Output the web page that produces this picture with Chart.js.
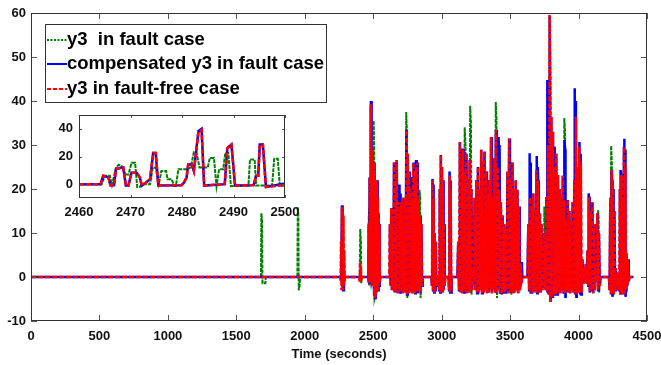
<!DOCTYPE html>
<html>
<head>
<meta charset="utf-8">
<script src="https://cdn.jsdelivr.net/npm/chart.js@4.4.0/dist/chart.umd.min.js"></script>
<style>
  body { margin: 0; background: #fff; }
  #wrap { position: relative; width: 661px; height: 365px; }
  #main { position: absolute; left: 0; top: 0; }
  #inset { position: absolute; left: 50px; top: 105px; }
</style>
</head>
<body>
<div id="wrap">
  <canvas id="main" width="661" height="365"></canvas>
  <canvas id="inset" width="255" height="118"></canvas>
</div>
<script>
// ==============================
// y3 : fault / compensated / fault-free
// ==============================

// --- Ticks ---
const mainXTicks = [0, 500, 1000, 1500, 2000, 2500, 3000, 3500, 4000, 4500];
const mainYTicks = [-10, 0, 10, 20, 30, 40, 50, 60];
const insetXTicks = [2460, 2470, 2480, 2490, 2500];
const insetYTicks = [0, 20, 40];

const legendLabels = ['y3  in fault case', 'compensated y3 in fault case', 'y3 in fault-free case'];
const xTitle = 'Time (seconds)';

// --- Zoom window 2460..2500 s (shared with the main plot) ---
const insetT = [2460, 2464.2, 2464.7, 2465.7, 2466.1, 2466.8, 2467.2, 2468.3, 2468.6, 2469.1,
    2469.6, 2470.2, 2471.2, 2471.8, 2472.2, 2473.0, 2473.8, 2474.4, 2474.9, 2475.4,
    2479.9, 2480.4, 2480.9, 2481.2, 2481.9, 2482.3, 2483.2, 2483.8, 2484.3, 2488.3,
    2488.8, 2489.6, 2490.3, 2493.9, 2494.4, 2494.8, 2495.1, 2495.7, 2496.3, 2500];
const insetRed = [0, 0, 6, 5, -0.7, -0.7, 11, 12, 12, -1,
    -1, 8.3, 8.3, 5, -1, 1.2, 3.6, 22.6, 22.6, -1,
    -0.7, 1.2, 5, 14.3, 14.3, 9.5, 38, 39.3, -1, 0,
    26, 28.6, -1, -0.7, 6, 6, 28.6, 28.6, -2, -0.7];
const insetBlue = [0, 0, 6, 5, -0.7, -0.7, 11, 12, 12, -1,
    -1, 8.3, 8.3, 5, -1, 1.2, 3.6, 22.6, 22.6, -1,
    -0.7, 1.2, 5, 14.3, 14.3, 9.5, 38.5, 40, -1, 0,
    26, 28.6, -1, -0.7, 6, 6, 28.6, 28.6, -2, 0.5];
const insetGreenT = [2460, 2464.4, 2465, 2466, 2466.4, 2467.2, 2467.7, 2468.3, 2469, 2469.6,
    2470.2, 2470.9, 2471.3, 2471.8, 2472.2, 2473.8, 2474.3, 2474.9, 2475.5, 2476,
    2476.9, 2477.2, 2478, 2478.5, 2478.8, 2479.3, 2480.9, 2481.7, 2482.3, 2482.8,
    2483.4, 2485, 2485.4, 2486.2, 2486.7, 2487.2, 2488, 2488.4, 2489, 2489.5,
    2492.9, 2493.2, 2494.1, 2494.4, 2497.5, 2497.9, 2498.6, 2499, 2500];
const insetGreen = [0, 0, 6, 6, -0.5, 12, 14, 13, 7, 7,
    15.5, 15.5, -2, -2, 0, 0, 11.9, 11.9, 0, 9.5,
    9.5, 3.6, 3.6, -1.4, -1.4, 10.7, 10.7, 12, 23, 23,
    12, 12, 19, 19, -1.4, 10.7, 10.7, 22.6, 22.6, -1.4,
    -1, 17.9, 17.9, -1, -1, 18.3, 18.3, -1.4, -1];

// --- Fault-free y3 (red), bursts sampled at a fixed step ---
const redA = [0, -1, 8, -3, 15.9, -2.5, 12, -3, 14, -2, 6, -1, 0];                  // from 2259 s, 3 s
const redB = [0, -1.2, 3.4, -1.4, 2, -0.8, 0];                                     // from 2398 s, 3 s
const redC = [-1, 24, -4, 26, -4.8, 22, -4, 20, -3.5, 22, -3, 18, -3, 14.5, -2, 12, -1, 0]; // from 2501 s, 3 s
const redD = [0, 12, -2, 15.7, -3, 14, -3, 26, -3.5, 22, -3, 26.6, -3.7, 17, -3, 15, -3.5, 17,
    -3, 18, -3.7, 14, -3, 18, -3.5, 33.4, -4, 28, -3.7, 24, -3, 20, -3.5, 18, -3.7, 26, -3,
    24, -3.7, 25, -3, 26, -3.5, 17.5, -3, 14, -3.7, 12, -2, 0];                    // from 2617 s, 5 s
const redE = [0, -2, 22, -3, 18, -3.5, 10, -3, 8, -2, 0];                          // from 2925 s, 4 s
const redF = [0, -3, 20, -3.5, 27.7, -3, 25, -3.5, 22, -3, 12, -2, 0];             // from 2978 s, 4 s
const redG = [0, -3, 23, -3.5, 20, -3, 0];                                         // from 3050 s, 4 s
const redH = [0, 8, -3, 30.7, -3.5, 27, -3.7, 28.9, -3, 24, -3.5, 28, -3.7, 22, -3, 26.6,
    -3.5, 20, -3, 2.3, -1, 18, -3, 22, -3.7, 25, -3.5, 20, -3, 28.9, -3.7, 26, -3.5, 28.5,
    -3, 24, -3.7, 19, -3.5, 22, -3, 31.8, -3.7, 18, -3, 27, -3.5, 33.4, -3.7, 25, -3, 19.8,
    -3.5, 17, -3.7, 14, -3, 12, -3.5, 10, -3, 24, -3.7, 31.5, -3.5, 22, -3, 26, -3.7, 20,
    -3.5, 22, -3, 19.8, -3.7, 16, -3, 3, -1, 0];                                   // from 3115 s, 6 s
const redI = [0, 12, -3, 18, -3.5, 16, -3.7, 19, -3, 15, -3.5, 24.3, -3.7, 22, -3, 14.5,
    -3.5, 12, -3, 8, -2.5, 10, -3, 18.2, -3.5, 30, -4, 59.5, -5.7, 36.4, -4.5, 33, -4, 25,
    -3.7, 28, -4, 23.2, -3.5, 20, -3.7, 18, -3, 23, -3.5, 17.5, -3.7, 13, -3, 17.5, -3.5, 15,
    -3.7, 12, -3, 17, -3.5, 22, -3.7, 36.4, -4, 25, -3.5, 29.6, -3.7, 26, -3.5, 4, -1.5, 2,
    -1, 3, -1.5, 6, -2, 18.2, -3.5, 15, -3, 17, -3.7, 12, -3, 3, -1, 14.5, -3, 10, -2, 0]; // from 3627 s, 6 s
const redJ = [0, -3, 18, -4, 24.3, -3.5, 20, -4, 15, -3, 2, -2, 1, -3, 0, -3, 20, -4, 23.2,
    -3.5, 18, -4, 29.6, -4, 25, -3, 5.4, -2, 4, -1, 0];                            // from 4222 s, 5 s

// --- Fault case y3 (green), outside the zoom window ---
const greenT1 = [0, 1680, 1683, 1688, 1691, 1712, 1715, 1946, 1949, 1953, 1956, 1962, 1966, 2402, 2405, 2410, 2413, 2418];
const greenY1 = [0, 0, 14.5, 13, -1.4, -1.4, 0, 0, 15.9, 14, -3, -2, 0, 0, 10.9, 8, -1.4, 0];
const greenT2 = [2501, 2503, 2507, 2510, 2516, 2520, 2738, 2741, 2746, 2749, 2755, 2835, 2838, 2843, 2846, 2851,
    3165, 3168, 3174, 3178, 3205, 3208, 3214, 3218, 3224, 3392, 3395, 3400, 3404, 3410, 3495, 3498, 3504, 3508, 3514,
    3645, 3648, 3652, 3656, 3660, 3747, 3750, 3755, 3758, 3762, 3788, 3792, 3796, 3800, 3806, 3893, 3896, 3901, 3905, 3911,
    4140, 4143, 4147, 4150, 4155, 4235, 4238, 4243, 4247, 4252, 4400];
const greenY2 = [-1, 35.5, 30, -4.8, -4, 0, 0, 37.5, 33, -4.8, 0, 0, 19.8, 18, -4.8, 0,
    0, 34, 30, -3, -3, 38.9, 35, -4, 0, 0, 39.8, 36, -4.8, 0, 0, 26.8, 24, -4, 0,
    0, 23.6, 20, -3, 0, 0, 16, 12, -2, 0, 0, 55, 45, -5, 0, 0, 36.1, 33, -4.8, 0,
    0, 15.2, 13, -3.5, 0, 0, 29.8, 26, -4.5, 0, 0];

// --- Compensated y3 (blue): follows the red bursts, plus the peaks where it stands out ---
const blueT1 = [0, 2266, 2272, 2276, 2280, 2286, 2460];
const blueY1 = [0, 0, 16.3, 14, -3, 0, 0];
const blueT2 = [2505, 2688, 2691, 2697, 2701, 2706, 2773, 2776, 2782, 2786, 2791, 2810, 2813, 2818, 2822, 2827,
    2930, 2933, 2939, 2943, 2948, 3056, 3059, 3065, 3069, 3074, 3150, 3153, 3160, 3164, 3170,
    3414, 3417, 3423, 3430, 3440, 3444, 3450, 3575, 3578, 3586, 3590, 3640, 3643, 3649, 3653, 3658,
    3693, 3696, 3702, 3706, 3711, 3770, 3773, 3778, 3782, 3787, 3818, 3821, 3826, 3830, 3835,
    3893, 3897, 3902, 3906, 3911, 3970, 3974, 3980, 3984, 3990, 4005, 4008, 4014, 4018, 4023,
    4072, 4075, 4081, 4085, 4090, 4238, 4241, 4246, 4250, 4255, 4304, 4307, 4312, 4316, 4320,
    4332, 4335, 4340, 4344, 4348, 4400];
const blueY2 = [0, 0, 21, 19, -3, 0, 0, 22.7, 21, -3.5, 0, 0, 26.6, 25, -3.7, 0,
    0, 22.3, 21, -3, 0, 0, 24, 22, -3.5, 0, 0, 28.9, 27, -3.5, 0,
    0, 31.8, 30, 12, 12, -3.5, 0, 0, 3.4, 3.4, 0, 0, 28.1, 26, -3.5, 0,
    0, 27.5, 25, -3.5, 0, 0, 44.8, 42, -4, 0, 0, 29.6, 27, -4, 0,
    0, 31.1, 29, -4.8, 0, 0, 42.9, 40, -4.5, 0, 0, 30.7, 28, -4, 0,
    0, 19, 17, -3, 0, 0, 24.3, 22, -4.5, 0, 0, 24.3, 22, -4, 0,
    0, 31.4, 29, -4.5, 0, 0];

// --- Colours / fonts ---
const GREEN = '#008000', BLUE = '#0000ff', RED = '#ff0000';
const FONT = '"Liberation Sans", Arial, sans-serif';

// --- Helpers ---
function burst(t0, dt, ys) { return ys.map((y, i) => ({ x: t0 + i * dt, y: y })); }
function pairs(ts, ys) { return ts.map((t, i) => ({ x: t, y: ys[i] })); }
function byTime(a, b) { return a.x - b.x; }

const redEarly = [].concat(burst(2259, 3, redA), burst(2398, 3, redB));
const redLate = [].concat(
    burst(2501, 3, redC), burst(2617, 5, redD), burst(2925, 4, redE), burst(2978, 4, redF),
    burst(3050, 4, redG), burst(3115, 6, redH), burst(3627, 6, redI), burst(4222, 5, redJ)
);

const redPts = [].concat([{ x: 0, y: 0 }], redEarly, pairs(insetT, insetRed), redLate, [{ x: 4400, y: 0 }]);
const bluePts = [].concat(
    pairs(blueT1, blueY1),
    pairs(insetT, insetBlue),
    redLate.concat(pairs(blueT2, blueY2)).sort(byTime)
);
const greenPts = [].concat(pairs(greenT1, greenY1), pairs(insetGreenT, insetGreen), pairs(greenT2, greenY2));

// --- Plugin: box + inward ticks (MATLAB style) ---
const framePlugin = {
    id: 'frame',
    beforeDraw(chart) {
        const { ctx, chartArea: a } = chart;
        ctx.save();
        ctx.fillStyle = '#fff';
        ctx.fillRect(a.left, a.top, a.right - a.left, a.bottom - a.top);
        ctx.restore();
    },
    afterDraw(chart, args, opts) {
        const { ctx, chartArea: a, scales: { x, y } } = chart;
        const len = opts.len || 5;
        ctx.save();
        ctx.strokeStyle = '#555';
        ctx.lineWidth = 1;
        ctx.beginPath();
        x.ticks.forEach(t => {
            const px = Math.round(x.getPixelForValue(t.value)) + 0.5;
            ctx.moveTo(px, a.bottom); ctx.lineTo(px, a.bottom - len);
            ctx.moveTo(px, a.top); ctx.lineTo(px, a.top + len);
        });
        y.ticks.forEach(t => {
            const py = Math.round(y.getPixelForValue(t.value)) + 0.5;
            ctx.moveTo(a.left, py); ctx.lineTo(a.left + len, py);
            ctx.moveTo(a.right, py); ctx.lineTo(a.right - len, py);
        });
        ctx.stroke();
        ctx.strokeStyle = '#333';
        ctx.strokeRect(Math.round(a.left) + 0.5, Math.round(a.top) + 0.5,
            Math.round(a.right - a.left) - 1, Math.round(a.bottom - a.top) - 1);
        ctx.restore();
    }
};

// --- Plugin: legend box inside the plot ---
const legendPlugin = {
    id: 'boxLegend',
    afterDraw(chart) {
        const ctx = chart.ctx;
        const box = { x: 45, y: 24, w: 281, h: 78 };
        const rows = [
            { y: 40, color: GREEN, dash: [2, 1.5] },
            { y: 64, color: BLUE, dash: [] },
            { y: 89, color: RED, dash: [4, 2] }
        ];
        ctx.save();
        ctx.fillStyle = '#fff';
        ctx.fillRect(box.x, box.y, box.w, box.h);
        ctx.strokeStyle = '#333';
        ctx.lineWidth = 1;
        ctx.strokeRect(box.x + 0.5, box.y + 0.5, box.w, box.h);
        ctx.font = 'bold 18.5px ' + FONT;
        ctx.textBaseline = 'middle';
        ctx.fillStyle = '#000';
        rows.forEach((r, i) => {
            ctx.beginPath();
            ctx.setLineDash(r.dash);
            ctx.strokeStyle = r.color;
            ctx.lineWidth = 2;
            ctx.moveTo(47, r.y); ctx.lineTo(67, r.y);
            ctx.stroke();
            ctx.setLineDash([]);
            ctx.fillText(legendLabels[i], 67, r.y);
        });
        ctx.restore();
    }
};

function tickFont() { return { family: FONT, size: 13, weight: 'bold' }; }
function plain(v) { return String(v); }

function datasets(green, blue, red, w) {
    return [
        { label: legendLabels[0], data: green, borderColor: GREEN, borderWidth: 2, borderDash: [4, 1], order: 3 },
        { label: legendLabels[1], data: blue, borderColor: BLUE, borderWidth: w, order: 2 },
        { label: legendLabels[2], data: red, borderColor: RED, borderWidth: w, borderDash: [5, 2], order: 1 }
    ];
}

// --- Main chart ---
new Chart(document.getElementById('main'), {
    type: 'line',
    data: { datasets: datasets(greenPts, bluePts, redPts, 2.5) },
    options: {
        responsive: false,
        animation: false,
        events: [],
        elements: { point: { radius: 0 }, line: { tension: 0 } },
        layout: { padding: { top: 13, right: 14, left: 0, bottom: 0 } },
        plugins: { legend: { display: false }, tooltip: { enabled: false }, frame: { len: 6 } },
        scales: {
            x: {
                type: 'linear', min: 0, max: 4500,
                afterBuildTicks: s => { s.ticks = mainXTicks.map(v => ({ value: v })); },
                ticks: { font: tickFont(), color: '#111', padding: 8, maxRotation: 0, callback: plain },
                grid: { display: false, drawTicks: false },
                border: { display: false },
                title: { display: true, text: xTitle, font: tickFont(), color: '#111', padding: { top: 0, bottom: 3 } },
                afterFit: s => { s.height = 44; s.paddingLeft = 0; s.paddingRight = 0; }
            },
            y: {
                min: -10, max: 60,
                afterBuildTicks: s => { s.ticks = mainYTicks.map(v => ({ value: v })); },
                ticks: { font: tickFont(), color: '#111', padding: 5, callback: plain },
                grid: { display: false, drawTicks: false },
                border: { display: false },
                afterFit: s => { s.width = 31; s.paddingTop = 0; s.paddingBottom = 0; }
            }
        }
    },
    plugins: [framePlugin, legendPlugin]
});

// --- Inset chart (zoom 2460..2500 s) ---
new Chart(document.getElementById('inset'), {
    type: 'line',
    data: { datasets: datasets(pairs(insetGreenT, insetGreen), pairs(insetT, insetBlue), pairs(insetT, insetRed), 2.5) },
    options: {
        responsive: false,
        animation: false,
        events: [],
        elements: { point: { radius: 0 }, line: { tension: 0 } },
        layout: { padding: { top: 10, right: 20, left: 0, bottom: 0 } },
        plugins: { legend: { display: false }, tooltip: { enabled: false }, frame: { len: 3 } },
        scales: {
            x: {
                type: 'linear', min: 2460, max: 2500,
                afterBuildTicks: s => { s.ticks = insetXTicks.map(v => ({ value: v })); },
                ticks: { font: tickFont(), color: '#111', padding: 7, maxRotation: 0, callback: plain },
                grid: { display: false, drawTicks: false },
                border: { display: false },
                afterFit: s => { s.height = 25; s.paddingLeft = 0; s.paddingRight = 0; }
            },
            y: {
                min: -10, max: 50,
                afterBuildTicks: s => { s.ticks = insetYTicks.map(v => ({ value: v })); },
                ticks: { font: tickFont(), color: '#111', padding: 6, callback: plain },
                grid: { display: false, drawTicks: false },
                border: { display: false },
                afterFit: s => { s.width = 29; s.paddingTop = 0; s.paddingBottom = 0; }
            }
        }
    },
    plugins: [framePlugin]
});
</script>
</body>
</html>
